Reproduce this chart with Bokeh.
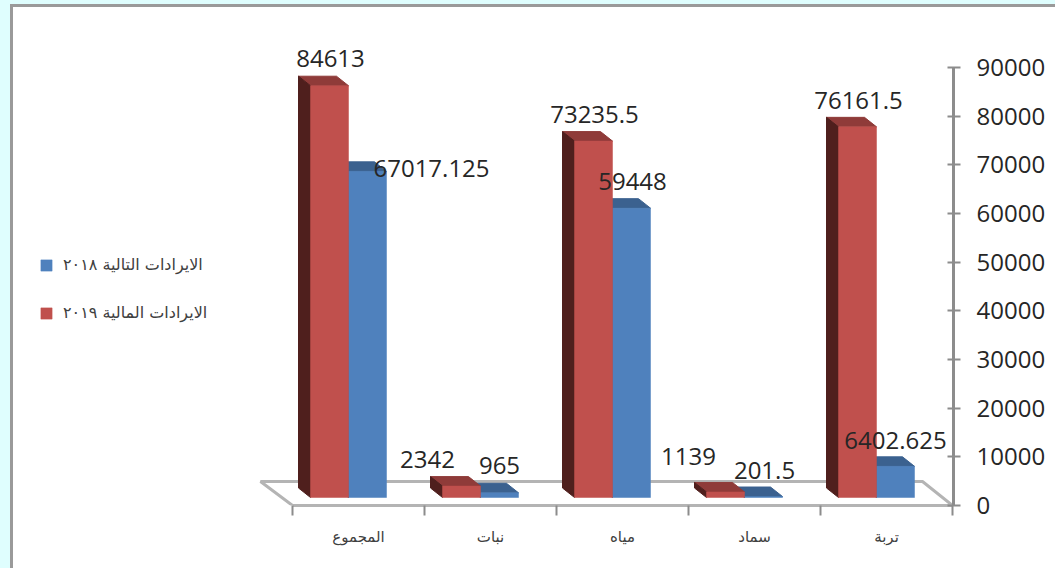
from bokeh.plotting import figure
from bokeh.models import ColumnDataSource, FixedTicker, GlobalInlineStyleSheet, Legend, LegendItem
from bokeh.core.properties import value
from bokeh.embed import file_html
from bokeh.resources import INLINE

categories = ["المجموع", "نبات", "مياه", "سماد", "تربة"]
revenue_2018 = [67017.125, 965, 59448, 201.5, 6402.625]
revenue_2019 = [84613, 2342, 73235.5, 1139, 76161.5]
y_ticks = [0, 10000, 20000, 30000, 40000, 50000, 60000, 70000, 80000, 90000]
name_2018 = "الايرادات التالية ٢٠١٨"
name_2019 = "الايرادات المالية ٢٠١٩"

# layout helpers: window pixels -> data units
OX, OY = 13, 7
X0, CW = 292, 132
Y0, PX = 505, 438 / 90000
def dx(px): return px / CW
def dy(px): return px / PX
def sx(px): return (px - X0) / CW
def sy(px): return (Y0 - px) / PX

BAR = dx(38)
GAP = dx(18)
DX, DY = dx(12), dy(9.5)
BASE = dy(8)
FONT = "Open Sans"
ARABIC = "DejaVu Sans"

p = figure(width=1042, height=561, output_backend="svg", toolbar_location=None,
           x_range=(sx(OX), sx(953)), y_range=(0, sy(OY)), y_axis_location="right",
           min_border_left=0, min_border_top=0, min_border_right=102, min_border_bottom=63,
           outline_line_color=None, background_fill_color="white", border_fill_color="white",
           stylesheets=[GlobalInlineStyleSheet(css=(
               "html{background:#dffefe;}"
               "body{margin:4px 0 0 10px;border-left:3px solid #9a9a9a;border-top:3px solid #9a9a9a;"
               "background:#fff;overflow:hidden;}"))])
p.grid.visible = False

# y axis
ya = p.yaxis[0]
ya.ticker = FixedTicker(ticks=y_ticks)
ya.bounds = (0, 90000)
ya.axis_line_color = "#8c8c8c"; ya.axis_line_width = 3
ya.major_tick_line_color = "#8c8c8c"; ya.major_tick_line_width = 2
ya.major_tick_in = 6; ya.major_tick_out = 7
ya.minor_tick_line_color = None
ya.major_label_standoff = 16
ya.major_label_text_font = FONT
ya.major_label_text_font_size = "24px"
ya.major_label_text_color = "#262626"

# x axis: labels on major ticks (group centres), visible ticks on minor ticks (group edges)
xa = p.xaxis[0]
centres = [i + 0.5 for i in range(len(categories))]
edges = list(range(len(categories) + 1))
xa.ticker = FixedTicker(ticks=centres, minor_ticks=edges)
xa.major_label_overrides = {c: n for c, n in zip(centres, categories)}
xa.bounds = (0, len(categories))
xa.axis_line_color = "#b4b4b4"; xa.axis_line_width = 3
xa.major_tick_line_color = None
xa.major_tick_in = 0; xa.major_tick_out = 0
xa.minor_tick_line_color = "#8c8c8c"; xa.minor_tick_line_width = 2
xa.minor_tick_in = 0; xa.minor_tick_out = 10
xa.major_label_standoff = 12
xa.major_label_text_font = ARABIC
xa.major_label_text_font_size = "15px"
xa.major_label_text_color = "#404040"

# floor
p.multi_line(xs=[[0, sx(260), sx(922), sx(952)]], ys=[[0, sy(481), sy(481), 0]],
             line_color="#b4b4b4", line_width=3)

def series(values, offset, front, top, side):
    lefts = [i + GAP + offset for i in range(len(values))]
    rights = [l + BAR for l in lefts]
    tops = [v + BASE for v in values]
    top_xs = [[l, r, r - DX, l - DX] for l, r in zip(lefts, rights)]
    top_ys = [[t, t, t + DY, t + DY] for t in tops]
    side_xs = [[l, l - DX, l - DX, l] for l in lefts]
    side_ys = [[BASE, BASE + DY, t + DY, t] for t in tops]
    p.patches(top_xs, top_ys, fill_color=top, line_color=top)
    p.patches(side_xs, side_ys, fill_color=side, line_color=side)
    return p.quad(left=lefts, right=rights, bottom=[BASE] * len(values), top=tops,
                  fill_color=front, line_color=front, line_width=0.5)

r18 = series(revenue_2018, BAR, "#4f81bd", "#3b618f", "#2f4d71")
r19 = series(revenue_2019, 0, "#c0504d", "#8f3b39", "#4f1f1d")

# data labels, shifted by hand as in the original chart
off_2018 = [(64, 3), (0, 27), (1, 27), (1, 26), (0, 26)]
off_2019 = [(1, 27), (-34, 27), (1, 27), (-37, 35), (1, 26)]
def labels(values, offset, offs):
    src = ColumnDataSource(dict(
        x=[i + GAP + offset + BAR / 2 for i in range(len(values))],
        y=[v + BASE for v in values],
        t=[f"{v:.10g}" for v in values],
        xo=[o[0] for o in offs],
        yo=[-o[1] for o in offs]))
    p.text("x", "y", text="t", source=src, x_offset="xo", y_offset="yo",
           text_align="center", text_baseline="middle", text_color="#262626",
           text_font=value(FONT), text_font_size="24px")
labels(revenue_2018, BAR, off_2018)
labels(revenue_2019, 0, off_2019)

legend = Legend(items=[LegendItem(label=name_2018, renderers=[r18]),
                       LegendItem(label=name_2019, renderers=[r19])],
                location=(26, 183), orientation="vertical", spacing=29,
                glyph_width=14, glyph_height=14, label_width=100, label_height=14,
                label_standoff=10, padding=0, margin=0, border_line_color=None,
                background_fill_color=None, label_text_font=ARABIC,
                label_text_font_size="16px", label_text_color="#404040")
p.add_layout(legend, "center")

open("out.html", "w").write(file_html(p, INLINE))
